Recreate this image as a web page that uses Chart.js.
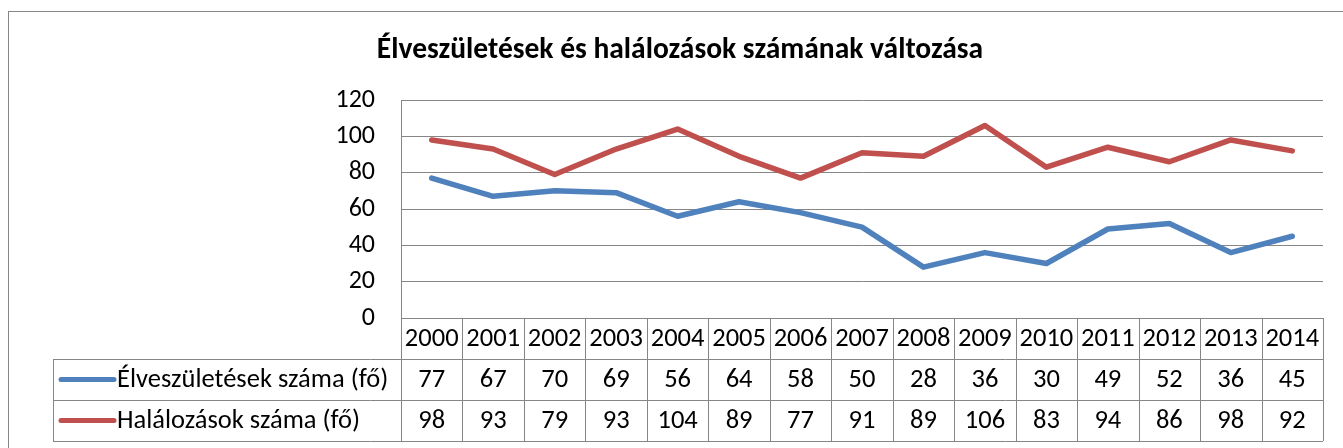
<!DOCTYPE html>
<html>
<head>
<meta charset="utf-8">
<script src="https://cdn.jsdelivr.net/npm/chart.js@4"></script>
<style>
    body { margin: 0; background: white; }
    #wrap { width: 1343px; height: 448px; }
</style>
</head>
<body>
<div id="wrap"><canvas id="myChart" width="1343" height="448"></canvas></div>
<script>
// data (table under the chart)
var years = ['2000', '2001', '2002', '2003', '2004', '2005', '2006', '2007', '2008', '2009', '2010', '2011', '2012', '2013', '2014'];
var births = [77, 67, 70, 69, 56, 64, 58, 50, 28, 36, 30, 49, 52, 36, 45];
var deaths = [98, 93, 79, 93, 104, 89, 77, 91, 89, 106, 83, 94, 86, 98, 92];
var y_ticks = [0, 20, 40, 60, 80, 100, 120];
var series_names = ['Élveszületések száma (fő)', 'Halálozások száma (fő)'];
var chart_title = 'Élveszületések és halálozások számának változása';

var FONT = 'Carlito, Lato, sans-serif';
var gridColor = '#868686';

// draws the frame, the title and the data table under the plot
var tablePlugin = {
    id: 'dataTable',
    afterDraw: function (chart) {
        let ctx = chart.ctx;
        let area = chart.chartArea;
        let xs = chart.scales.x;
        let n = years.length;
        let colW = (area.right - area.left) / n;
        let rows = [area.bottom, area.bottom + 41, area.bottom + 82, area.bottom + 123];
        let legLeft = 53;
        ctx.save();

        // outer frame
        ctx.strokeStyle = gridColor;
        ctx.lineWidth = 1;
        ctx.strokeRect(8.5, 11.5, 1400, 500);

        // title
        ctx.fillStyle = '#000';
        ctx.font = 'bold 29.5px ' + FONT;
        ctx.textAlign = 'center';
        ctx.textBaseline = 'alphabetic';
        ctx.fillText(chart_title, 680, 58);

        // table grid
        ctx.beginPath();
        for (let r = 0; r < rows.length; r++) {
            let x0 = r == 0 ? area.left : legLeft;
            ctx.moveTo(x0, Math.round(rows[r]) + 0.5);
            ctx.lineTo(area.right, Math.round(rows[r]) + 0.5);
        }
        for (let i = 0; i <= n; i++) {
            let x = Math.round(area.left + i * colW) + 0.5;
            ctx.moveTo(x, rows[0]);
            ctx.lineTo(x, rows[3]);
        }
        ctx.moveTo(legLeft + 0.5, rows[1]);
        ctx.lineTo(legLeft + 0.5, rows[3]);
        ctx.stroke();

        // cell texts
        ctx.font = '26.5px ' + FONT;
        ctx.textBaseline = 'middle';
        ctx.textAlign = 'center';
        let rowData = [years, births, deaths];
        for (let r = 0; r < 3; r++) {
            let cy = (rows[r] + rows[r + 1]) / 2 + 1;
            for (let i = 0; i < n; i++) {
                ctx.fillText(String(rowData[r][i]), xs.getPixelForValue(i), cy);
            }
        }

        // legend keys
        chart.data.datasets.forEach(function (ds, k) {
            let cy = (rows[k + 1] + rows[k + 2]) / 2;
            ctx.strokeStyle = ds.borderColor;
            ctx.lineWidth = 5;
            ctx.lineCap = 'round';
            ctx.beginPath();
            ctx.moveTo(61, cy);
            ctx.lineTo(114, cy);
            ctx.stroke();
            ctx.fillStyle = '#000';
            ctx.textAlign = 'left';
            ctx.fillText(ds.label, 117, cy + 1);
        });
        ctx.restore();
    }
};

var ctx = document.getElementById('myChart');
var chart = new Chart(ctx, {
    type: 'line',
    data: {
        labels: years,
        datasets: [
            {
                label: series_names[0],
                data: births,
                borderColor: '#4F81BD',
                backgroundColor: '#4F81BD',
                borderWidth: 5.5,
                pointRadius: 0,
                tension: 0,
                borderJoinStyle: 'round',
                borderCapStyle: 'round'
            },
            {
                label: series_names[1],
                data: deaths,
                borderColor: '#C0504D',
                backgroundColor: '#C0504D',
                borderWidth: 5.5,
                pointRadius: 0,
                tension: 0,
                borderJoinStyle: 'round',
                borderCapStyle: 'round'
            }
        ]
    },
    options: {
        responsive: false,
        animation: false,
        layout: { padding: { top: 100, bottom: 130, right: 20, left: 0 } },
        scales: {
            x: {
                display: false,
                offset: true
            },
            y: {
                min: 0,
                max: 120,
                afterFit: function (scale) { scale.width = 401; },
                afterBuildTicks: function (scale) {
                    scale.ticks = y_ticks.map(function (v) { return { value: v }; });
                },
                grid: { color: gridColor, lineWidth: 1, drawTicks: false },
                border: { display: true, color: gridColor, width: 1 },
                ticks: {
                    padding: 26,
                    color: '#000',
                    font: { family: FONT, size: 26 }
                }
            }
        },
        plugins: {
            legend: { display: false },
            title: { display: false },
            tooltip: { enabled: false }
        }
    },
    plugins: [tablePlugin]
});
</script>
</body>
</html>
